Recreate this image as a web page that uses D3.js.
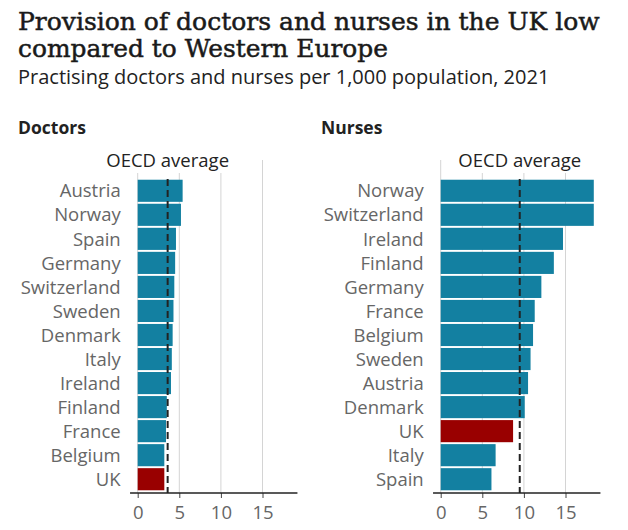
<!DOCTYPE html>
<html><head><meta charset="utf-8">
<script src="https://cdn.jsdelivr.net/npm/d3@7"></script>
<style>
html,body{margin:0;padding:0;background:#fff;}
svg{display:block;}
</style></head>
<body>
<script>
const doctorCountries = ["Austria","Norway","Spain","Germany","Switzerland","Sweden","Denmark","Italy","Ireland","Finland","France","Belgium","UK"];
const doctorValues = [5.4,5.2,4.6,4.5,4.4,4.3,4.2,4.1,4.0,3.5,3.4,3.2,3.2];
const nurseCountries = ["Norway","Switzerland","Ireland","Finland","Germany","France","Belgium","Sweden","Austria","Denmark","UK","Italy","Spain"];
const nurseValues = [18.4,18.4,14.7,13.6,12.1,11.3,11.1,10.8,10.5,10.1,8.7,6.6,6.1];
const oecdAverages = [3.6, 9.5];
const panelTitles = ["Doctors","Nurses"];
const tickValues = [0,5,10,15];

const W = 628, H = 530;
const svg = d3.select("body").append("svg").attr("width", W).attr("height", H);

const sans = "'Open Sans', 'Noto Sans', sans-serif";
const serif = "'DejaVu Serif', serif";
function fitText(sel, target) {
  const w = sel.node().getComputedTextLength();
  if (w > target) sel.attr("textLength", target).attr("lengthAdjust", "spacingAndGlyphs");
}
const t1 = svg.append("text").attr("x",18).attr("y",30)
  .style("font-family",serif).style("font-size","25px").style("font-weight","400").attr("fill","#1a1a1a")
  .style("stroke","#1a1a1a").style("stroke-width","0.5px")
  .text("Provision of doctors and nurses in the UK low");
fitText(t1, 594);
const t2 = svg.append("text").attr("x",18).attr("y",57)
  .style("font-family",serif).style("font-size","25px").style("font-weight","400").attr("fill","#1a1a1a")
  .style("stroke","#1a1a1a").style("stroke-width","0.5px")
  .text("compared to Western Europe");
fitText(t2, 370);
const t3 = svg.append("text").attr("x",18).attr("y",84)
  .style("font-family",sans).style("font-size","20px").attr("fill","#222")
  .text("Practising doctors and nurses per 1,000 population, 2021");
fitText(t3, 542);

const panels = [
  {title: panelTitles[0], cats: doctorCountries, vals: doctorValues, avg: oecdAverages[0], x0: 137.7, tx: 18},
  {title: panelTitles[1], cats: nurseCountries, vals: nurseValues, avg: oecdAverages[1], x0: 440.7, tx: 321}
];

const pxPerUnit = 8.32;
const axisY = 493;
const gridTop = 160;

panels.forEach(p => {
  const g = svg.append("g");
  const x = d3.scaleLinear().domain([0, 20]).range([p.x0, p.x0 + 20*pxPerUnit]);
  const y = d3.scaleBand().domain(p.cats).range([179, 491]).paddingInner(0.08).paddingOuter(0.03);

  g.append("text").attr("x", p.tx).attr("y", 134)
    .style("font-family",sans).style("font-size","17.5px").style("font-weight","700").attr("fill","#222")
    .text(p.title);

  // gridlines
  g.selectAll("line.grid").data(tickValues).join("line")
    .attr("x1", d=>x(d)).attr("x2", d=>x(d)).attr("y1", gridTop).attr("y2", axisY)
    .attr("stroke","#d4d4d4").attr("stroke-width",1);

  // OECD label with white background
  const bgRect = g.append("rect").attr("fill","#fff");
  const lbl = g.append("text").attr("x", x(p.avg)).attr("y", 167)
    .attr("text-anchor","middle")
    .style("font-family",sans).style("font-size","18.5px").attr("fill","#222")
    .text("OECD average");
  const bb = lbl.node().getBBox();
  bgRect.attr("x", bb.x-2).attr("y", bb.y-1).attr("width", bb.width+4).attr("height", bb.height+2);

  // bars
  g.selectAll("rect.bar").data(p.cats).join("rect").attr("class","bar")
    .attr("x", x(0)).attr("y", d=>y(d))
    .attr("width", (d,i)=>x(p.vals[i]) - x(0))
    .attr("height", y.bandwidth())
    .attr("fill", d=> d==="UK" ? "#990000" : "#1380A1");

  // category labels
  g.selectAll("text.cat").data(p.cats).join("text").attr("class","cat")
    .attr("x", p.x0 - 17).attr("y", d=>y(d)+y.bandwidth()/2).attr("dy","0.36em")
    .attr("text-anchor","end")
    .style("font-family",sans).style("font-size","18.5px").attr("fill","#666")
    .text(d=>d);

  // OECD dashed line
  g.append("line").attr("x1", x(p.avg)).attr("x2", x(p.avg)).attr("y1", 179).attr("y2", axisY)
    .attr("stroke","#222").attr("stroke-width",2).attr("stroke-dasharray","7,4");

  // axis
  const axis = d3.axisBottom(x).tickValues(tickValues).tickSize(5).tickPadding(8).tickFormat(d3.format("d"));
  const ag = g.append("g").attr("transform", `translate(0,${axisY})`).call(axis);
  ag.select(".domain").remove();
  ag.append("line").attr("x1", x(-0.92)).attr("x2", x(19.2)).attr("y1",0).attr("y2",0).attr("stroke","#222").attr("stroke-width",1.5);
  ag.selectAll(".tick line").attr("stroke","#444");
  ag.selectAll(".tick text").style("font-family",sans).style("font-size","18.5px").attr("fill","#666");
});
</script>
</body></html>
